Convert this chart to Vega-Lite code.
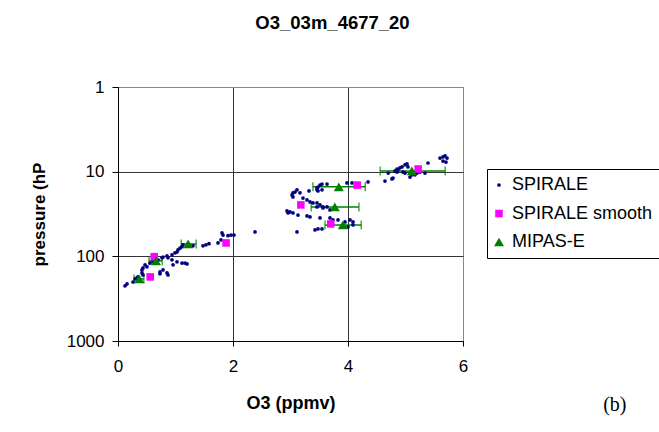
{
  "$schema": "https://vega.github.io/schema/vega-lite/v6.json",
  "width": 345,
  "height": 254,
  "autosize": {"type": "none"},
  "padding": {"left": 118, "top": 87, "right": 196, "bottom": 91},
  "background": "white",
  "title": {"text": "O3_03m_4677_20", "font": "Liberation Sans", "fontSize": 18.5, "fontWeight": "bold", "anchor": "middle", "dx": 42, "offset": 46, "color": "black"},
  "config": {
    "view": {"stroke": "#888888", "strokeWidth": 1},
    "axis": {"labelFont": "Liberation Sans", "titleFont": "Liberation Sans", "labelColor": "black", "titleColor": "black", "domainColor": "black", "tickColor": "black"},
    "legend": {"labelFont": "Liberation Sans"}
  },
  "data": {"values": [
    {"s": "SPIRALE", "x": 0.122, "p": 223},
    {"s": "SPIRALE", "x": 0.157, "p": 212},
    {"s": "SPIRALE", "x": 0.261, "p": 201},
    {"s": "SPIRALE", "x": 0.296, "p": 185},
    {"s": "SPIRALE", "x": 0.33, "p": 180},
    {"s": "SPIRALE", "x": 0.348, "p": 175},
    {"s": "SPIRALE", "x": 0.417, "p": 145},
    {"s": "SPIRALE", "x": 0.435, "p": 137},
    {"s": "SPIRALE", "x": 0.504, "p": 133},
    {"s": "SPIRALE", "x": 0.47, "p": 126},
    {"s": "SPIRALE", "x": 0.557, "p": 120},
    {"s": "SPIRALE", "x": 0.609, "p": 116},
    {"s": "SPIRALE", "x": 0.696, "p": 110},
    {"s": "SPIRALE", "x": 0.765, "p": 104},
    {"s": "SPIRALE", "x": 0.783, "p": 102},
    {"s": "SPIRALE", "x": 0.852, "p": 99},
    {"s": "SPIRALE", "x": 0.939, "p": 96},
    {"s": "SPIRALE", "x": 0.991, "p": 91},
    {"s": "SPIRALE", "x": 1.026, "p": 89},
    {"s": "SPIRALE", "x": 1.043, "p": 84},
    {"s": "SPIRALE", "x": 1.078, "p": 80},
    {"s": "SPIRALE", "x": 1.113, "p": 77},
    {"s": "SPIRALE", "x": 1.13, "p": 73},
    {"s": "SPIRALE", "x": 1.304, "p": 75},
    {"s": "SPIRALE", "x": 1.478, "p": 75},
    {"s": "SPIRALE", "x": 1.53, "p": 73},
    {"s": "SPIRALE", "x": 1.583, "p": 71},
    {"s": "SPIRALE", "x": 1.739, "p": 69.5},
    {"s": "SPIRALE", "x": 1.791, "p": 64},
    {"s": "SPIRALE", "x": 1.809, "p": 53},
    {"s": "SPIRALE", "x": 1.826, "p": 56},
    {"s": "SPIRALE", "x": 1.913, "p": 57},
    {"s": "SPIRALE", "x": 1.965, "p": 56},
    {"s": "SPIRALE", "x": 2.017, "p": 56},
    {"s": "SPIRALE", "x": 2.383, "p": 51.5},
    {"s": "SPIRALE", "x": 0.87, "p": 104},
    {"s": "SPIRALE", "x": 0.939, "p": 110},
    {"s": "SPIRALE", "x": 1.026, "p": 116},
    {"s": "SPIRALE", "x": 1.113, "p": 120},
    {"s": "SPIRALE", "x": 1.165, "p": 120},
    {"s": "SPIRALE", "x": 1.2, "p": 123},
    {"s": "SPIRALE", "x": 0.957, "p": 126},
    {"s": "SPIRALE", "x": 0.73, "p": 153},
    {"s": "SPIRALE", "x": 0.783, "p": 145},
    {"s": "SPIRALE", "x": 0.852, "p": 157},
    {"s": "SPIRALE", "x": 0.87, "p": 166},
    {"s": "SPIRALE", "x": 0.73, "p": 161},
    {"s": "SPIRALE", "x": 0.417, "p": 157},
    {"s": "SPIRALE", "x": 0.435, "p": 166},
    {"s": "SPIRALE", "x": 4.643, "p": 12.9},
    {"s": "SPIRALE", "x": 4.765, "p": 12.2},
    {"s": "SPIRALE", "x": 4.783, "p": 11.9},
    {"s": "SPIRALE", "x": 4.7, "p": 10.4},
    {"s": "SPIRALE", "x": 4.817, "p": 9.8},
    {"s": "SPIRALE", "x": 4.852, "p": 9.3},
    {"s": "SPIRALE", "x": 4.87, "p": 9.5},
    {"s": "SPIRALE", "x": 4.904, "p": 9.0},
    {"s": "SPIRALE", "x": 4.939, "p": 8.8},
    {"s": "SPIRALE", "x": 4.991, "p": 8.3},
    {"s": "SPIRALE", "x": 5.026, "p": 8.1},
    {"s": "SPIRALE", "x": 5.043, "p": 8.8},
    {"s": "SPIRALE", "x": 5.078, "p": 11.6},
    {"s": "SPIRALE", "x": 5.113, "p": 10.9},
    {"s": "SPIRALE", "x": 5.165, "p": 10.9},
    {"s": "SPIRALE", "x": 5.2, "p": 10.4},
    {"s": "SPIRALE", "x": 5.252, "p": 10.1},
    {"s": "SPIRALE", "x": 5.339, "p": 10.4},
    {"s": "SPIRALE", "x": 5.391, "p": 7.9},
    {"s": "SPIRALE", "x": 5.6, "p": 6.9},
    {"s": "SPIRALE", "x": 5.652, "p": 6.7},
    {"s": "SPIRALE", "x": 5.687, "p": 6.5},
    {"s": "SPIRALE", "x": 5.722, "p": 6.9},
    {"s": "SPIRALE", "x": 5.652, "p": 7.5},
    {"s": "SPIRALE", "x": 5.704, "p": 7.7},
    {"s": "SPIRALE", "x": 4.852, "p": 10.1},
    {"s": "SPIRALE", "x": 4.957, "p": 10.1},
    {"s": "SPIRALE", "x": 4.991, "p": 10.4},
    {"s": "SPIRALE", "x": 3.461, "p": 15.6},
    {"s": "SPIRALE", "x": 3.478, "p": 15.2},
    {"s": "SPIRALE", "x": 3.513, "p": 14.4},
    {"s": "SPIRALE", "x": 3.548, "p": 14.0},
    {"s": "SPIRALE", "x": 3.461, "p": 16.4},
    {"s": "SPIRALE", "x": 3.478, "p": 16.9},
    {"s": "SPIRALE", "x": 3.548, "p": 16.4},
    {"s": "SPIRALE", "x": 3.635, "p": 14.0},
    {"s": "SPIRALE", "x": 3.322, "p": 16.9},
    {"s": "SPIRALE", "x": 3.983, "p": 13.6},
    {"s": "SPIRALE", "x": 4.07, "p": 13.6},
    {"s": "SPIRALE", "x": 4.348, "p": 13.2},
    {"s": "SPIRALE", "x": 3.043, "p": 17.8},
    {"s": "SPIRALE", "x": 3.078, "p": 17.4},
    {"s": "SPIRALE", "x": 3.113, "p": 16.4},
    {"s": "SPIRALE", "x": 3.026, "p": 18.8},
    {"s": "SPIRALE", "x": 3.043, "p": 19.9},
    {"s": "SPIRALE", "x": 3.165, "p": 17.8},
    {"s": "SPIRALE", "x": 3.217, "p": 20.5},
    {"s": "SPIRALE", "x": 3.287, "p": 21.6},
    {"s": "SPIRALE", "x": 3.339, "p": 22.8},
    {"s": "SPIRALE", "x": 3.391, "p": 23.4},
    {"s": "SPIRALE", "x": 3.461, "p": 23.4},
    {"s": "SPIRALE", "x": 3.513, "p": 24.7},
    {"s": "SPIRALE", "x": 3.565, "p": 26.1},
    {"s": "SPIRALE", "x": 3.635, "p": 26.1},
    {"s": "SPIRALE", "x": 2.939, "p": 29.1},
    {"s": "SPIRALE", "x": 2.957, "p": 30.7},
    {"s": "SPIRALE", "x": 2.991, "p": 29.9},
    {"s": "SPIRALE", "x": 3.043, "p": 30.7},
    {"s": "SPIRALE", "x": 3.13, "p": 32.5},
    {"s": "SPIRALE", "x": 3.287, "p": 33.3},
    {"s": "SPIRALE", "x": 3.339, "p": 34.3},
    {"s": "SPIRALE", "x": 3.565, "p": 26.8},
    {"s": "SPIRALE", "x": 3.687, "p": 28.3},
    {"s": "SPIRALE", "x": 3.461, "p": 26.1},
    {"s": "SPIRALE", "x": 3.513, "p": 35.2},
    {"s": "SPIRALE", "x": 3.687, "p": 35.2},
    {"s": "SPIRALE", "x": 3.739, "p": 37.2},
    {"s": "SPIRALE", "x": 3.826, "p": 37.2},
    {"s": "SPIRALE", "x": 3.948, "p": 39.3},
    {"s": "SPIRALE", "x": 4.035, "p": 37.2},
    {"s": "SPIRALE", "x": 4.087, "p": 39.3},
    {"s": "SPIRALE", "x": 4.087, "p": 42.6},
    {"s": "SPIRALE", "x": 4.0, "p": 45},
    {"s": "SPIRALE", "x": 3.426, "p": 48.8},
    {"s": "SPIRALE", "x": 3.478, "p": 47.5},
    {"s": "SPIRALE", "x": 3.548, "p": 47.5},
    {"s": "SPIRALE", "x": 3.113, "p": 51.5},
    {"s": "SPIRALE smooth", "x": 5.22, "p": 9.3},
    {"s": "SPIRALE smooth", "x": 4.16, "p": 14.4},
    {"s": "SPIRALE smooth", "x": 3.18, "p": 24.7},
    {"s": "SPIRALE smooth", "x": 3.7, "p": 41.4},
    {"s": "SPIRALE smooth", "x": 1.88, "p": 69.5},
    {"s": "SPIRALE smooth", "x": 0.63, "p": 101},
    {"s": "SPIRALE smooth", "x": 0.56, "p": 175},
    {"s": "MIPAS-E", "x": 5.11, "p": 9.8, "lo": 4.56, "hi": 5.69},
    {"s": "MIPAS-E", "x": 3.84, "p": 15.1, "lo": 3.39, "hi": 4.3},
    {"s": "MIPAS-E", "x": 3.77, "p": 26.1, "lo": 3.36, "hi": 4.19},
    {"s": "MIPAS-E", "x": 3.91, "p": 42.6, "lo": 3.6, "hi": 4.23},
    {"s": "MIPAS-E", "x": 1.22, "p": 71.4, "lo": 1.1, "hi": 1.36},
    {"s": "MIPAS-E", "x": 0.66, "p": 113, "lo": 0.54, "hi": 0.77},
    {"s": "MIPAS-E", "x": 0.37, "p": 185, "lo": 0.28, "hi": 0.45}
  ]},
  "layer": [
    {
      "transform": [{"filter": "datum.s == 'MIPAS-E'"}],
      "mark": {"type": "errorbar", "thickness": 1.5, "color": "#008000", "ticks": {"size": 9, "thickness": 1.5, "color": "#008000"}},
      "encoding": {
        "x": {
          "field": "lo", "type": "quantitative",
          "scale": {"domain": [0, 6], "nice": false},
          "axis": {"values": [0, 2, 4, 6], "format": "d", "title": "O3 (ppmv)", "titleFontSize": 18, "titleFontWeight": "bold", "titlePadding": 20, "labelFontSize": 17, "labelPadding": 12, "tickSize": 5, "grid": true, "gridColor": {"condition": {"test": "datum.value == 6", "value": "#888888"}, "value": "#333333"}, "labelFlush": false}
        },
        "x2": {"field": "hi"},
        "y": {
          "field": "p", "type": "quantitative",
          "scale": {"type": "log", "domain": [1, 1000], "reverse": true, "nice": false},
          "axis": {"values": [1, 10, 100, 1000], "format": "d", "title": "pressure (hP", "titleFontSize": 17, "titleFontWeight": "bold", "titlePadding": 18, "labelFontSize": 17, "labelPadding": 8, "tickSize": 6, "grid": true, "gridColor": {"condition": {"test": "datum.value == 1", "value": "#888888"}, "value": "#333333"}, "labelFlush": false}
        }
      }
    },
    {
      "mark": {"type": "point", "filled": true, "opacity": 1, "strokeWidth": 0},
      "encoding": {
        "x": {
          "field": "x", "type": "quantitative",
          "scale": {"domain": [0, 6], "nice": false},
          "axis": {"values": [0, 2, 4, 6], "format": "d", "title": "O3 (ppmv)", "titleFontSize": 18, "titleFontWeight": "bold", "titlePadding": 20, "labelFontSize": 17, "labelPadding": 12, "tickSize": 5, "grid": true, "gridColor": {"condition": {"test": "datum.value == 6", "value": "#888888"}, "value": "#333333"}, "labelFlush": false}
        },
        "y": {
          "field": "p", "type": "quantitative",
          "scale": {"type": "log", "domain": [1, 1000], "reverse": true, "nice": false},
          "axis": {"values": [1, 10, 100, 1000], "format": "d", "title": "pressure (hP", "titleFontSize": 17, "titleFontWeight": "bold", "titlePadding": 18, "labelFontSize": 17, "labelPadding": 8, "tickSize": 6, "grid": true, "gridColor": {"condition": {"test": "datum.value == 1", "value": "#888888"}, "value": "#333333"}, "labelFlush": false}
        },
        "color": {
          "field": "s", "type": "nominal",
          "scale": {"domain": ["SPIRALE", "SPIRALE smooth", "MIPAS-E"], "range": ["#000080", "#FF00FF", "#008000"]},
          "legend": {"orient": "none", "legendX": 369, "legendY": 82, "title": null, "labelFontSize": 18, "labelColor": "black", "strokeColor": "black", "fillColor": "white", "padding": 7, "rowPadding": 10.5, "labelOffset": 4, "symbolOffset": -4}
        },
        "shape": {"field": "s", "type": "nominal", "scale": {"domain": ["SPIRALE", "SPIRALE smooth", "MIPAS-E"], "range": ["circle", "square", "triangle-up"]}},
        "size": {"field": "s", "type": "nominal", "scale": {"domain": ["SPIRALE", "SPIRALE smooth", "MIPAS-E"], "range": [14, 100, 120]}}
      }
    },
    {
      "data": {"values": [{"t": "(b)", "x": 8.64, "p": 5675}]},
      "mark": {"type": "text", "font": "Liberation Serif", "fontSize": 20, "color": "black", "align": "center", "baseline": "middle"},
      "encoding": {
        "x": {"field": "x", "type": "quantitative", "title": "O3 (ppmv)"},
        "y": {"field": "p", "type": "quantitative", "title": "pressure (hP"},
        "text": {"field": "t"}
      }
    }
  ]
}
